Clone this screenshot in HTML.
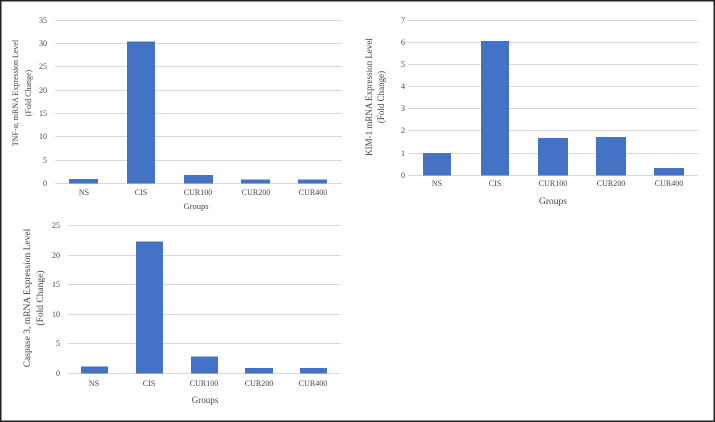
<!DOCTYPE html>
<html><head><style>
html,body{margin:0;padding:0;background:#fff}
svg{display:block}
text{font-family:"Liberation Serif",serif;fill:#444}
</style></head><body>
<svg width="715" height="422" viewBox="0 0 715 422" xmlns="http://www.w3.org/2000/svg">
<rect x="0.75" y="0.75" width="713.5" height="420.5" fill="#fff" stroke="#222" stroke-width="1.5"/>
<g stroke="#d9d9d9" stroke-width="1">
<!-- chart1 grid -->
<line x1="55" x2="342" y1="20.5" y2="20.5"/><line x1="55" x2="342" y1="43.5" y2="43.5"/><line x1="55" x2="342" y1="66.5" y2="66.5"/><line x1="55" x2="342" y1="90.5" y2="90.5"/><line x1="55" x2="342" y1="113.5" y2="113.5"/><line x1="55" x2="342" y1="136.5" y2="136.5"/><line x1="55" x2="342" y1="160.5" y2="160.5"/><line x1="55" x2="342" y1="183.5" y2="183.5"/>
<!-- chart2 grid -->
<line x1="408" x2="698" y1="20.5" y2="20.5"/><line x1="408" x2="698" y1="42.5" y2="42.5"/><line x1="408" x2="698" y1="64.5" y2="64.5"/><line x1="408" x2="698" y1="86.5" y2="86.5"/><line x1="408" x2="698" y1="108.5" y2="108.5"/><line x1="408" x2="698" y1="130.5" y2="130.5"/><line x1="408" x2="698" y1="153.5" y2="153.5"/><line x1="408" x2="698" y1="175.5" y2="175.5"/>
<!-- chart3 grid -->
<line x1="68" x2="341" y1="225.5" y2="225.5"/><line x1="68" x2="341" y1="255.5" y2="255.5"/><line x1="68" x2="341" y1="284.5" y2="284.5"/><line x1="68" x2="341" y1="314.5" y2="314.5"/><line x1="68" x2="341" y1="343.5" y2="343.5"/><line x1="68" x2="341" y1="373.5" y2="373.5"/>
</g>
<g fill="#4472c4">
<rect x="69" y="179" width="29" height="4.5"/>
<rect x="127" y="41.5" width="28" height="142"/>
<rect x="184" y="175" width="29" height="8.5"/>
<rect x="241" y="179.5" width="29" height="4"/>
<rect x="298" y="179.5" width="29" height="4"/>

<rect x="423" y="153" width="28" height="22.5"/>
<rect x="481" y="41" width="28" height="134.5"/>
<rect x="538" y="138" width="30" height="37.5"/>
<rect x="596" y="137" width="30" height="38.5"/>
<rect x="654" y="168" width="30" height="7.5"/>

<rect x="81" y="366.5" width="27" height="7"/>
<rect x="136" y="241.5" width="27" height="132"/>
<rect x="191" y="356.5" width="27" height="17"/>
<rect x="245" y="368" width="28" height="5.5"/>
<rect x="300" y="368" width="27" height="5.5"/>
</g>
<g font-size="8" text-anchor="end">
<text x="47" y="23">35</text><text x="47" y="46">30</text><text x="47" y="69">25</text><text x="47" y="93">20</text><text x="47" y="116">15</text><text x="47" y="139">10</text><text x="47" y="163">5</text><text x="47" y="186">0</text>
<text x="405" y="23">7</text><text x="405" y="45">6</text><text x="405" y="67">5</text><text x="405" y="89">4</text><text x="405" y="111">3</text><text x="405" y="133">2</text><text x="405" y="156">1</text><text x="405" y="178">0</text>
<text x="60" y="228">25</text><text x="60" y="258">20</text><text x="60" y="287">15</text><text x="60" y="317">10</text><text x="60" y="346">5</text><text x="60" y="376">0</text>
</g>
<g font-size="8" text-anchor="middle">
<text x="84" y="195">NS</text><text x="141" y="195">CIS</text><text x="198" y="195">CUR100</text><text x="256" y="195">CUR200</text><text x="313" y="195">CUR400</text>
<text x="437" y="186">NS</text><text x="495" y="186">CIS</text><text x="553" y="186">CUR100</text><text x="611" y="186">CUR200</text><text x="669" y="186">CUR400</text>
<text x="94" y="386">NS</text><text x="149" y="386">CIS</text><text x="204" y="386">CUR100</text><text x="259" y="386">CUR200</text><text x="313" y="386">CUR400</text>
</g>
<g text-anchor="middle">
<text x="196" y="209" font-size="8.5">Groups</text>
<text x="553" y="204" font-size="9.5">Groups</text>
<text x="205" y="403" font-size="9">Groups</text>
<text transform="translate(18,93) rotate(-90)" font-size="8">TNF-α, mRNA Expression Level</text>
<text transform="translate(31,93) rotate(-90)" font-size="8">(Fold Change)</text>
<text transform="translate(372,97) rotate(-90)" font-size="9">KIM-1 mRNA Expression Level</text>
<text transform="translate(384,97) rotate(-90)" font-size="9">(Fold Change)</text>
<text transform="translate(30,298) rotate(-90)" font-size="9.5">Caspase 3, mRNA Expression Level</text>
<text transform="translate(43,298) rotate(-90)" font-size="9.5">(Fold Change)</text>
</g>
</svg>
</body></html>
